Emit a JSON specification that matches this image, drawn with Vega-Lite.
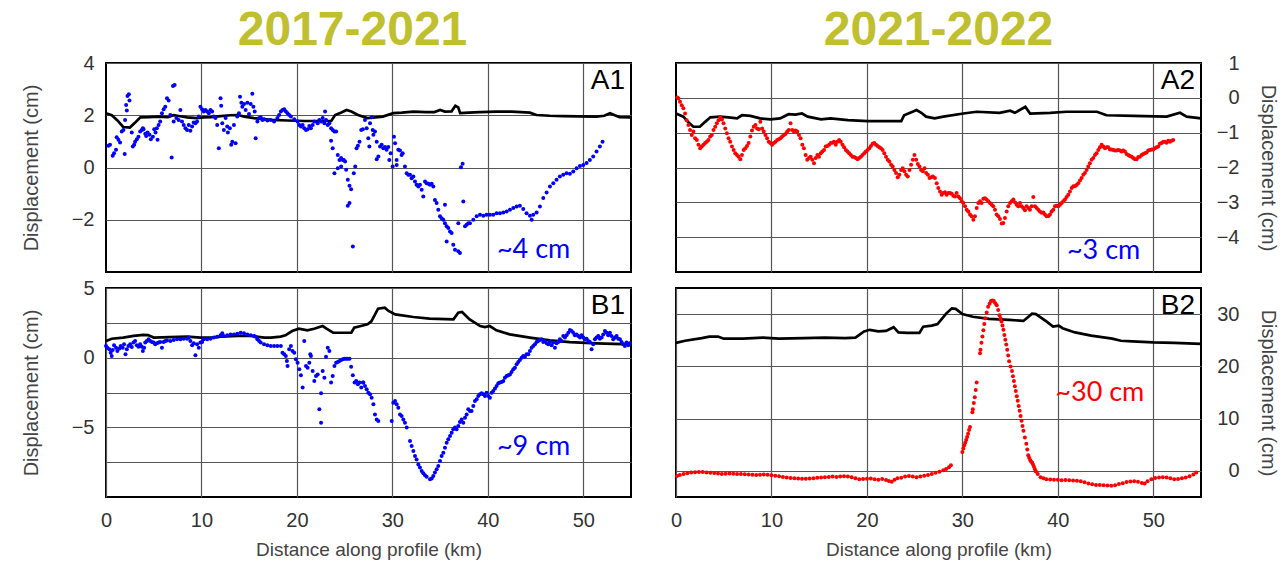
{
  "$schema": "https://vega.github.io/schema/vega-lite/v6.json",
  "padding": {"left": 20, "top": 6, "right": 5, "bottom": 5},
  "background": "white",
  "bounds": "flush",
  "columns": 2,
  "spacing": {"row": 16, "column": 45},
  "config": {
    "view": {"stroke": "#000", "strokeWidth": 2},
    "axis": {
      "grid": true, "gridColor": "#555", "gridWidth": 1.2,
      "domain": false, "ticks": false,
      "labelFont": "Liberation Sans", "labelFontSize": 20, "labelColor": "#333",
      "labelFlush": false, "labelOverlap": false,
      "titleFont": "Liberation Sans", "titleFontSize": 20, "titleFontWeight": "normal", "titleColor": "#444"
    },
    "title": {
      "font": "Liberation Sans", "fontSize": 48, "fontWeight": "bold", "color": "#BFBF30",
      "anchor": "middle", "frame": "group", "baseline": "alphabetic", "offset": -2
    }
  },
  "datasets": {
    "a1_line": [
      {"km":0,"cm":2.08},{"km":0.6,"cm":2.0},{"km":1.2,"cm":1.8},{"km":1.8,"cm":1.55},{"km":2.5,"cm":1.53},{"km":3.0,"cm":1.7},{"km":3.6,"cm":1.92},{"km":4.5,"cm":1.93},{"km":5.5,"cm":1.95},{"km":6.5,"cm":1.93},{"km":7.1,"cm":2.0},{"km":7.6,"cm":1.97},{"km":8.5,"cm":1.92},{"km":9.5,"cm":1.89},{"km":10.2,"cm":1.92},{"km":11.0,"cm":1.93},{"km":12.0,"cm":1.97},{"km":13.0,"cm":2.0},{"km":13.8,"cm":2.01},{"km":14.5,"cm":1.95},{"km":15.5,"cm":1.89},{"km":16.5,"cm":1.85},{"km":17.3,"cm":1.82},{"km":19.0,"cm":1.8},{"km":20.8,"cm":1.78},{"km":22.5,"cm":1.78},{"km":23.6,"cm":1.78},{"km":24.0,"cm":2.01},{"km":24.6,"cm":2.1},{"km":25.2,"cm":2.2},{"km":25.7,"cm":2.14},{"km":26.4,"cm":2.01},{"km":27.4,"cm":1.89},{"km":28.2,"cm":1.92},{"km":29.0,"cm":1.95},{"km":30.1,"cm":2.08},{"km":31.0,"cm":2.1},{"km":32.2,"cm":2.14},{"km":33.5,"cm":2.12},{"km":34.4,"cm":2.12},{"km":35.0,"cm":2.2},{"km":35.5,"cm":2.14},{"km":36.2,"cm":2.15},{"km":36.6,"cm":2.36},{"km":36.9,"cm":2.3},{"km":37.1,"cm":2.08},{"km":38.0,"cm":2.1},{"km":39.2,"cm":2.12},{"km":40.9,"cm":2.14},{"km":42.5,"cm":2.14},{"km":44.4,"cm":2.1},{"km":45.1,"cm":2.01},{"km":46.5,"cm":1.98},{"km":47.9,"cm":1.97},{"km":49.5,"cm":1.96},{"km":51.4,"cm":1.95},{"km":52.2,"cm":1.98},{"km":52.8,"cm":2.08},{"km":53.3,"cm":2.0},{"km":53.8,"cm":1.93},{"km":55.0,"cm":1.92}
    ],
    "a1_pts": [
      {"km":0.25,"cm":0.83},{"km":0.42,"cm":0.87},{"km":0.70,"cm":0.45},{"km":0.84,"cm":0.55},{"km":1.05,"cm":0.68},{"km":1.12,"cm":1.16},{"km":1.30,"cm":1.06},{"km":1.47,"cm":0.96},{"km":1.65,"cm":1.38},{"km":1.82,"cm":1.44},{"km":2.0,"cm":1.82},{"km":2.11,"cm":2.39},{"km":2.18,"cm":2.18},{"km":2.25,"cm":2.74},{"km":2.39,"cm":2.80},{"km":2.46,"cm":2.56},{"km":1.96,"cm":0.52},{"km":2.70,"cm":1.34},{"km":2.81,"cm":0.80},{"km":2.95,"cm":0.87},{"km":3.05,"cm":0.99},{"km":3.23,"cm":1.08},{"km":3.40,"cm":1.18},{"km":3.58,"cm":1.38},{"km":3.75,"cm":1.44},{"km":3.86,"cm":1.50},{"km":3.93,"cm":1.46},{"km":4.11,"cm":1.29},{"km":4.21,"cm":1.21},{"km":4.35,"cm":1.34},{"km":4.56,"cm":1.25},{"km":4.70,"cm":1.08},{"km":4.91,"cm":1.18},{"km":5.05,"cm":1.46},{"km":5.19,"cm":1.34},{"km":5.33,"cm":1.50},{"km":5.40,"cm":1.06},{"km":5.51,"cm":1.63},{"km":5.68,"cm":1.76},{"km":5.86,"cm":2.08},{"km":6.04,"cm":2.23},{"km":6.21,"cm":2.33},{"km":6.39,"cm":2.65},{"km":6.56,"cm":2.56},{"km":6.74,"cm":2.01},{"km":6.88,"cm":0.38},{"km":7.02,"cm":3.12},{"km":7.19,"cm":3.16},{"km":7.09,"cm":1.76},{"km":7.37,"cm":1.89},{"km":7.61,"cm":1.82},{"km":7.79,"cm":2.20},{"km":7.96,"cm":1.76},{"km":8.14,"cm":1.63},{"km":8.32,"cm":1.50},{"km":8.49,"cm":1.44},{"km":8.67,"cm":1.63},{"km":8.84,"cm":1.41},{"km":9.02,"cm":1.57},{"km":9.19,"cm":1.72},{"km":9.37,"cm":1.69},{"km":9.54,"cm":1.76},{"km":9.72,"cm":1.95},{"km":9.89,"cm":2.33},{"km":10.07,"cm":2.23},{"km":10.25,"cm":2.14},{"km":10.42,"cm":2.20},{"km":10.60,"cm":2.14},{"km":10.77,"cm":2.08},{"km":10.95,"cm":2.20},{"km":11.12,"cm":2.14},{"km":11.30,"cm":1.95},{"km":11.47,"cm":1.89},{"km":11.65,"cm":1.63},{"km":11.82,"cm":0.74},{"km":12.0,"cm":2.65},{"km":12.07,"cm":2.36},{"km":12.18,"cm":1.69},{"km":12.35,"cm":1.44},{"km":12.53,"cm":1.89},{"km":12.70,"cm":1.57},{"km":12.77,"cm":1.34},{"km":12.98,"cm":1.50},{"km":13.12,"cm":0.87},{"km":13.23,"cm":0.99},{"km":13.40,"cm":1.63},{"km":13.58,"cm":0.93},{"km":13.75,"cm":1.95},{"km":13.93,"cm":2.08},{"km":14.04,"cm":2.71},{"km":14.18,"cm":2.48},{"km":14.28,"cm":2.33},{"km":14.46,"cm":2.43},{"km":14.63,"cm":2.20},{"km":14.81,"cm":2.48},{"km":14.98,"cm":2.05},{"km":15.16,"cm":2.43},{"km":15.33,"cm":2.82},{"km":15.44,"cm":2.33},{"km":15.58,"cm":2.14},{"km":15.68,"cm":1.12},{"km":15.86,"cm":1.76},{"km":16.04,"cm":1.89},{"km":16.21,"cm":1.92},{"km":16.39,"cm":1.82},{"km":16.56,"cm":1.85},{"km":16.91,"cm":1.80},{"km":17.26,"cm":1.82},{"km":17.61,"cm":1.76},{"km":17.96,"cm":1.89},{"km":18.14,"cm":2.01},{"km":18.32,"cm":2.14},{"km":18.49,"cm":2.20},{"km":18.67,"cm":2.23},{"km":18.84,"cm":2.14},{"km":19.02,"cm":2.08},{"km":19.19,"cm":2.01},{"km":19.37,"cm":1.95},{"km":19.72,"cm":1.85},{"km":20.07,"cm":1.76},{"km":20.25,"cm":1.63},{"km":20.42,"cm":1.57},{"km":20.60,"cm":1.63},{"km":20.77,"cm":1.50},{"km":20.95,"cm":1.44},{"km":21.12,"cm":1.46},{"km":21.30,"cm":1.59},{"km":21.47,"cm":1.50},{"km":21.65,"cm":1.63},{"km":21.82,"cm":1.76},{"km":22.18,"cm":1.69},{"km":22.35,"cm":1.82},{"km":22.53,"cm":1.76},{"km":22.70,"cm":1.89},{"km":22.88,"cm":1.69},{"km":22.95,"cm":2.14},{"km":23.05,"cm":1.82},{"km":23.23,"cm":1.63},{"km":23.40,"cm":1.69},{"km":23.58,"cm":1.50},{"km":23.75,"cm":1.44},{"km":23.93,"cm":1.38},{"km":23.58,"cm":1.02},{"km":23.75,"cm":0.74},{"km":24.11,"cm":1.38},{"km":24.28,"cm":-0.03},{"km":24.46,"cm":0.29},{"km":24.63,"cm":0.36},{"km":24.81,"cm":0.29},{"km":24.91,"cm":0.29},{"km":25.05,"cm":0.23},{"km":24.28,"cm":0.48},{"km":23.93,"cm":-0.22},{"km":24.63,"cm":0.04},{"km":25.16,"cm":-0.09},{"km":25.33,"cm":-0.47},{"km":25.51,"cm":-0.70},{"km":25.68,"cm":-0.83},{"km":25.51,"cm":-1.36},{"km":25.33,"cm":-1.46},{"km":25.86,"cm":-3.02},{"km":25.96,"cm":-0.22},{"km":26.11,"cm":0.04},{"km":26.25,"cm":0.74},{"km":26.39,"cm":0.83},{"km":26.56,"cm":0.99},{"km":26.74,"cm":1.44},{"km":26.91,"cm":1.46},
      {"km":27.13,"cm":1.82},{"km":27.31,"cm":1.50},{"km":27.48,"cm":1.12},{"km":27.59,"cm":0.80},{"km":27.66,"cm":1.69},{"km":27.83,"cm":1.92},{"km":27.94,"cm":1.44},{"km":28.01,"cm":1.25},{"km":28.18,"cm":1.38},{"km":28.36,"cm":0.99},{"km":28.36,"cm":0.32},{"km":28.53,"cm":0.42},{"km":28.71,"cm":0.80},{"km":28.88,"cm":0.87},{"km":29.05,"cm":0.74},{"km":29.23,"cm":0.78},{"km":29.40,"cm":0.68},{"km":29.58,"cm":0.78},{"km":29.68,"cm":0.29},{"km":29.82,"cm":0.55},{"km":30.03,"cm":0.04},{"km":30.17,"cm":1.18},{"km":30.28,"cm":0.93},{"km":30.45,"cm":0.29},{"km":30.45,"cm":0.10},{"km":30.62,"cm":0.68},{"km":30.80,"cm":0.65},{"km":30.97,"cm":0.48},{"km":31.08,"cm":0.55},{"km":31.32,"cm":0.04},{"km":31.50,"cm":-0.22},{"km":31.67,"cm":-0.28},{"km":31.85,"cm":-0.28},{"km":32.02,"cm":-0.41},{"km":32.20,"cm":-0.34},{"km":32.37,"cm":-0.54},{"km":32.54,"cm":-0.66},{"km":32.72,"cm":-0.73},{"km":32.89,"cm":-0.66},{"km":33.07,"cm":-0.85},{"km":33.24,"cm":-1.11},{"km":33.42,"cm":-0.54},{"km":33.59,"cm":-0.60},{"km":33.77,"cm":-0.62},{"km":33.94,"cm":-0.66},{"km":34.12,"cm":-0.62},{"km":34.29,"cm":-0.73},{"km":34.46,"cm":-1.24},{"km":34.64,"cm":-1.36},{"km":34.81,"cm":-1.62},{"km":34.99,"cm":-1.87},{"km":35.16,"cm":-1.94},{"km":35.34,"cm":-2.00},{"km":35.51,"cm":-2.13},{"km":35.69,"cm":-2.25},{"km":35.86,"cm":-2.32},{"km":36.04,"cm":-2.45},{"km":36.21,"cm":-2.51},{"km":35.69,"cm":-2.83},{"km":36.38,"cm":-2.96},{"km":36.56,"cm":-3.15},{"km":36.91,"cm":-3.21},{"km":37.08,"cm":-3.27},{"km":35.51,"cm":-1.43},{"km":36.91,"cm":-2.13},{"km":37.19,"cm":0.01},{"km":37.36,"cm":0.14},{"km":37.43,"cm":-1.30},{"km":37.61,"cm":-2.25},{"km":37.78,"cm":-2.19},{"km":37.95,"cm":-2.13},{"km":38.13,"cm":-2.13},{"km":38.48,"cm":-2.00},{"km":38.83,"cm":-1.87},{"km":39.18,"cm":-1.81},{"km":39.53,"cm":-1.85},{"km":39.87,"cm":-1.81},{"km":40.22,"cm":-1.81},{"km":40.57,"cm":-1.81},{"km":40.92,"cm":-1.75},{"km":41.27,"cm":-1.75},{"km":41.62,"cm":-1.72},{"km":41.97,"cm":-1.68},{"km":42.32,"cm":-1.62},{"km":42.67,"cm":-1.55},{"km":43.02,"cm":-1.49},{"km":43.36,"cm":-1.46},{"km":43.71,"cm":-1.59},{"km":44.06,"cm":-1.75},{"km":44.41,"cm":-1.85},{"km":44.59,"cm":-2.00},{"km":44.76,"cm":-1.81},{"km":45.11,"cm":-1.72},{"km":45.46,"cm":-1.49},{"km":45.81,"cm":-1.17},{"km":46.16,"cm":-0.96},{"km":46.51,"cm":-0.73},{"km":46.86,"cm":-0.60},{"km":47.20,"cm":-0.47},{"km":47.55,"cm":-0.34},{"km":47.90,"cm":-0.28},{"km":48.25,"cm":-0.22},{"km":48.60,"cm":-0.24},{"km":48.95,"cm":-0.15},{"km":49.30,"cm":-0.03},{"km":49.65,"cm":0.06},{"km":50.00,"cm":0.10},{"km":50.35,"cm":0.17},{"km":50.69,"cm":0.29},{"km":51.04,"cm":0.42},{"km":51.39,"cm":0.61},{"km":51.74,"cm":0.80},{"km":52.02,"cm":0.99}
    ],
    "a2_line": [
      {"km":0,"cm":-0.45},{"km":0.77,"cm":-0.54},{"km":1.3,"cm":-0.7},{"km":1.82,"cm":-0.83},{"km":2.5,"cm":-0.83},{"km":3.05,"cm":-0.69},{"km":3.6,"cm":-0.56},{"km":4.6,"cm":-0.54},{"km":5.5,"cm":-0.56},{"km":6.4,"cm":-0.59},{"km":6.9,"cm":-0.5},{"km":7.8,"cm":-0.52},{"km":8.8,"cm":-0.59},{"km":9.9,"cm":-0.62},{"km":10.9,"cm":-0.59},{"km":11.8,"cm":-0.47},{"km":12.5,"cm":-0.48},{"km":13.2,"cm":-0.45},{"km":13.8,"cm":-0.54},{"km":15.2,"cm":-0.62},{"km":16.2,"cm":-0.59},{"km":18.0,"cm":-0.64},{"km":20.1,"cm":-0.67},{"km":22.5,"cm":-0.67},{"km":23.6,"cm":-0.67},{"km":23.9,"cm":-0.5},{"km":24.6,"cm":-0.42},{"km":25.2,"cm":-0.35},{"km":25.7,"cm":-0.43},{"km":26.2,"cm":-0.54},{"km":27.1,"cm":-0.59},{"km":28.0,"cm":-0.54},{"km":30.1,"cm":-0.45},{"km":31.5,"cm":-0.4},{"km":33.9,"cm":-0.43},{"km":35.0,"cm":-0.37},{"km":35.5,"cm":-0.43},{"km":36.6,"cm":-0.26},{"km":37.1,"cm":-0.45},{"km":39.2,"cm":-0.43},{"km":40.9,"cm":-0.4},{"km":44.1,"cm":-0.4},{"km":45.1,"cm":-0.5},{"km":47.9,"cm":-0.52},{"km":51.4,"cm":-0.54},{"km":52.8,"cm":-0.43},{"km":53.5,"cm":-0.54},{"km":55,"cm":-0.59}
    ],
    "a2_pts": [
      {"km":0.14,"cm":0.01},{"km":0.25,"cm":-0.02},{"km":0.42,"cm":-0.11},{"km":0.60,"cm":-0.21},{"km":0.77,"cm":-0.30},{"km":0.95,"cm":-0.45},{"km":1.12,"cm":-0.64},{"km":1.30,"cm":-0.78},{"km":1.47,"cm":-0.92},{"km":1.65,"cm":-1.07},{"km":1.82,"cm":-0.97},{"km":2.0,"cm":-1.16},{"km":2.18,"cm":-1.21},{"km":2.35,"cm":-1.35},{"km":2.53,"cm":-1.45},{"km":2.70,"cm":-1.40},{"km":2.88,"cm":-1.35},{"km":3.05,"cm":-1.30},{"km":3.23,"cm":-1.26},{"km":3.40,"cm":-1.21},{"km":3.58,"cm":-1.11},{"km":3.75,"cm":-1.07},{"km":3.93,"cm":-0.92},{"km":4.11,"cm":-0.83},{"km":4.28,"cm":-0.73},{"km":4.46,"cm":-0.64},{"km":4.63,"cm":-0.56},{"km":4.81,"cm":-0.62},{"km":4.98,"cm":-0.73},{"km":5.16,"cm":-0.88},{"km":5.33,"cm":-1.02},{"km":5.51,"cm":-1.16},{"km":5.68,"cm":-1.26},{"km":5.86,"cm":-1.40},{"km":6.04,"cm":-1.50},{"km":6.21,"cm":-1.59},{"km":6.39,"cm":-1.64},{"km":6.56,"cm":-1.69},{"km":6.74,"cm":-1.76},{"km":6.91,"cm":-1.64},{"km":7.09,"cm":-1.50},{"km":7.26,"cm":-1.45},{"km":7.44,"cm":-1.38},{"km":7.61,"cm":-1.30},{"km":7.79,"cm":-1.11},{"km":7.96,"cm":-0.94},{"km":8.14,"cm":-0.83},{"km":8.32,"cm":-0.78},{"km":8.49,"cm":-0.88},{"km":8.67,"cm":-0.90},{"km":8.84,"cm":-0.69},{"km":9.02,"cm":-0.88},{"km":9.19,"cm":-0.97},{"km":9.37,"cm":-1.07},{"km":9.54,"cm":-1.16},{"km":9.72,"cm":-1.26},{"km":9.89,"cm":-1.30},{"km":10.07,"cm":-1.35},{"km":10.25,"cm":-1.30},{"km":10.42,"cm":-1.26},{"km":10.60,"cm":-1.21},{"km":10.77,"cm":-1.19},{"km":10.95,"cm":-1.16},{"km":11.12,"cm":-1.11},{"km":11.30,"cm":-1.07},{"km":11.47,"cm":-1.04},{"km":11.65,"cm":-0.97},{"km":11.82,"cm":-0.92},{"km":12.0,"cm":-0.73},{"km":12.18,"cm":-0.92},{"km":12.35,"cm":-0.97},{"km":12.53,"cm":-0.94},{"km":12.70,"cm":-0.97},{"km":12.88,"cm":-1.07},{"km":13.05,"cm":-1.16},{"km":13.23,"cm":-1.35},{"km":13.40,"cm":-1.45},{"km":13.58,"cm":-1.64},{"km":13.75,"cm":-1.78},{"km":13.93,"cm":-1.73},{"km":14.11,"cm":-1.69},{"km":14.28,"cm":-1.78},{"km":14.46,"cm":-1.88},{"km":14.63,"cm":-1.73},{"km":14.81,"cm":-1.64},{"km":14.98,"cm":-1.69},{"km":15.16,"cm":-1.59},{"km":15.33,"cm":-1.54},{"km":15.51,"cm":-1.50},{"km":15.68,"cm":-1.40},{"km":15.86,"cm":-1.38},{"km":16.04,"cm":-1.35},{"km":16.21,"cm":-1.30},{"km":16.39,"cm":-1.29},{"km":16.56,"cm":-1.26},{"km":16.74,"cm":-1.35},{"km":16.91,"cm":-1.26},{"km":17.09,"cm":-1.21},{"km":17.26,"cm":-1.26},{"km":17.44,"cm":-1.35},{"km":17.61,"cm":-1.42},{"km":17.79,"cm":-1.50},{"km":17.96,"cm":-1.54},{"km":18.14,"cm":-1.59},{"km":18.32,"cm":-1.64},{"km":18.49,"cm":-1.69},{"km":18.67,"cm":-1.70},{"km":18.84,"cm":-1.73},{"km":19.02,"cm":-1.76},{"km":19.19,"cm":-1.73},{"km":19.37,"cm":-1.69},{"km":19.54,"cm":-1.64},{"km":19.72,"cm":-1.59},{"km":19.89,"cm":-1.54},{"km":20.07,"cm":-1.50},{"km":20.25,"cm":-1.45},{"km":20.42,"cm":-1.38},{"km":20.60,"cm":-1.32},{"km":20.77,"cm":-1.30},{"km":20.95,"cm":-1.35},{"km":21.12,"cm":-1.38},{"km":21.30,"cm":-1.42},{"km":21.47,"cm":-1.45},{"km":21.65,"cm":-1.50},{"km":21.82,"cm":-1.59},{"km":22.0,"cm":-1.69},{"km":22.18,"cm":-1.78},{"km":22.35,"cm":-1.83},{"km":22.53,"cm":-1.92},{"km":22.70,"cm":-1.97},{"km":22.88,"cm":-2.07},{"km":23.05,"cm":-2.16},{"km":23.23,"cm":-2.28},{"km":23.40,"cm":-2.21},{"km":23.58,"cm":-2.07},{"km":23.75,"cm":-2.02},{"km":23.93,"cm":-2.11},{"km":24.11,"cm":-2.21},{"km":24.28,"cm":-2.26},{"km":24.46,"cm":-2.07},{"km":24.63,"cm":-1.92},{"km":24.81,"cm":-1.78},{"km":24.98,"cm":-1.64},{"km":25.16,"cm":-1.78},{"km":25.33,"cm":-1.90},{"km":25.51,"cm":-1.97},{"km":25.68,"cm":-2.07},{"km":25.86,"cm":-2.11},{"km":26.04,"cm":-2.02},{"km":26.21,"cm":-2.16},{"km":26.39,"cm":-2.21},{"km":26.56,"cm":-2.30},{"km":26.74,"cm":-2.28},{"km":26.91,"cm":-2.26},
      {"km":27.13,"cm":-2.30},{"km":27.31,"cm":-2.45},{"km":27.48,"cm":-2.59},{"km":27.66,"cm":-2.69},{"km":27.83,"cm":-2.78},{"km":28.01,"cm":-2.73},{"km":28.18,"cm":-2.71},{"km":28.36,"cm":-2.78},{"km":28.53,"cm":-2.73},{"km":28.71,"cm":-2.73},{"km":28.88,"cm":-2.75},{"km":29.05,"cm":-2.81},{"km":29.23,"cm":-2.83},{"km":29.40,"cm":-2.73},{"km":29.58,"cm":-2.83},{"km":29.75,"cm":-2.88},{"km":29.93,"cm":-2.97},{"km":30.10,"cm":-3.02},{"km":30.28,"cm":-3.11},{"km":30.45,"cm":-3.21},{"km":30.62,"cm":-3.26},{"km":30.80,"cm":-3.35},{"km":30.97,"cm":-3.40},{"km":31.15,"cm":-3.50},{"km":31.32,"cm":-3.40},{"km":31.50,"cm":-3.16},{"km":31.67,"cm":-3.02},{"km":31.85,"cm":-2.97},{"km":32.02,"cm":-3.02},{"km":32.20,"cm":-2.90},{"km":32.37,"cm":-2.88},{"km":32.54,"cm":-2.92},{"km":32.72,"cm":-2.97},{"km":32.89,"cm":-3.02},{"km":33.07,"cm":-3.07},{"km":33.24,"cm":-3.11},{"km":33.42,"cm":-3.21},{"km":33.59,"cm":-3.35},{"km":33.77,"cm":-3.40},{"km":33.94,"cm":-3.48},{"km":34.12,"cm":-3.61},{"km":34.29,"cm":-3.59},{"km":34.46,"cm":-3.45},{"km":34.64,"cm":-3.26},{"km":34.81,"cm":-3.11},{"km":34.99,"cm":-3.02},{"km":35.16,"cm":-2.97},{"km":35.34,"cm":-2.92},{"km":35.51,"cm":-3.00},{"km":35.69,"cm":-3.07},{"km":35.86,"cm":-3.11},{"km":36.04,"cm":-3.02},{"km":36.21,"cm":-3.11},{"km":36.38,"cm":-3.16},{"km":36.56,"cm":-3.23},{"km":36.73,"cm":-3.11},{"km":36.91,"cm":-3.16},{"km":37.08,"cm":-3.21},{"km":37.26,"cm":-3.11},{"km":37.43,"cm":-2.85},{"km":37.61,"cm":-3.11},{"km":37.78,"cm":-3.16},{"km":37.95,"cm":-3.21},{"km":38.13,"cm":-3.26},{"km":38.30,"cm":-3.30},{"km":38.48,"cm":-3.29},{"km":38.65,"cm":-3.35},{"km":38.83,"cm":-3.40},{"km":39.00,"cm":-3.40},{"km":39.18,"cm":-3.35},{"km":39.35,"cm":-3.26},{"km":39.53,"cm":-3.21},{"km":39.70,"cm":-3.11},{"km":39.87,"cm":-3.10},{"km":40.05,"cm":-3.11},{"km":40.22,"cm":-3.07},{"km":40.40,"cm":-3.02},{"km":40.57,"cm":-2.97},{"km":40.75,"cm":-2.92},{"km":40.92,"cm":-2.85},{"km":41.10,"cm":-2.78},{"km":41.27,"cm":-2.69},{"km":41.45,"cm":-2.59},{"km":41.62,"cm":-2.54},{"km":41.79,"cm":-2.54},{"km":41.97,"cm":-2.50},{"km":42.14,"cm":-2.45},{"km":42.32,"cm":-2.37},{"km":42.49,"cm":-2.30},{"km":42.67,"cm":-2.21},{"km":42.84,"cm":-2.16},{"km":43.02,"cm":-2.07},{"km":43.19,"cm":-1.97},{"km":43.36,"cm":-1.88},{"km":43.54,"cm":-1.78},{"km":43.71,"cm":-1.73},{"km":43.89,"cm":-1.64},{"km":44.06,"cm":-1.59},{"km":44.24,"cm":-1.50},{"km":44.41,"cm":-1.42},{"km":44.59,"cm":-1.35},{"km":44.76,"cm":-1.40},{"km":44.94,"cm":-1.45},{"km":45.11,"cm":-1.42},{"km":45.28,"cm":-1.42},{"km":45.46,"cm":-1.48},{"km":45.63,"cm":-1.48},{"km":45.81,"cm":-1.50},{"km":45.98,"cm":-1.51},{"km":46.16,"cm":-1.51},{"km":46.33,"cm":-1.50},{"km":46.51,"cm":-1.51},{"km":46.68,"cm":-1.54},{"km":46.86,"cm":-1.51},{"km":47.03,"cm":-1.54},{"km":47.20,"cm":-1.61},{"km":47.38,"cm":-1.64},{"km":47.55,"cm":-1.67},{"km":47.73,"cm":-1.69},{"km":47.90,"cm":-1.73},{"km":48.08,"cm":-1.76},{"km":48.25,"cm":-1.76},{"km":48.43,"cm":-1.70},{"km":48.60,"cm":-1.69},{"km":48.78,"cm":-1.64},{"km":48.95,"cm":-1.61},{"km":49.12,"cm":-1.59},{"km":49.30,"cm":-1.57},{"km":49.47,"cm":-1.51},{"km":49.65,"cm":-1.50},{"km":49.82,"cm":-1.48},{"km":50.00,"cm":-1.48},{"km":50.17,"cm":-1.45},{"km":50.35,"cm":-1.42},{"km":50.52,"cm":-1.40},{"km":50.69,"cm":-1.32},{"km":50.87,"cm":-1.30},{"km":51.04,"cm":-1.26},{"km":51.22,"cm":-1.26},{"km":51.39,"cm":-1.29},{"km":51.57,"cm":-1.23},{"km":51.74,"cm":-1.26},{"km":51.92,"cm":-1.23},{"km":52.09,"cm":-1.21}
    ],
    "b1_line": [
      {"km":0,"cm":1.2},{"km":0.6,"cm":1.36},{"km":1.8,"cm":1.44},{"km":2.9,"cm":1.56},{"km":3.9,"cm":1.63},{"km":4.4,"cm":1.62},{"km":5.0,"cm":1.44},{"km":6.7,"cm":1.48},{"km":8.5,"cm":1.51},{"km":9.9,"cm":1.44},{"km":11.0,"cm":1.44},{"km":12.0,"cm":1.51},{"km":13.8,"cm":1.56},{"km":15.2,"cm":1.56},{"km":16.6,"cm":1.44},{"km":17.3,"cm":1.44},{"km":18.3,"cm":1.51},{"km":18.8,"cm":1.6},{"km":19.5,"cm":1.91},{"km":20.2,"cm":2.08},{"km":21.1,"cm":1.96},{"km":21.8,"cm":2.08},{"km":22.7,"cm":2.27},{"km":23.1,"cm":2.08},{"km":23.8,"cm":1.79},{"km":25.7,"cm":1.79},{"km":26.0,"cm":2.15},{"km":26.7,"cm":2.27},{"km":27.4,"cm":2.39},{"km":27.8,"cm":2.6},{"km":28.5,"cm":3.52},{"km":29.2,"cm":3.59},{"km":29.6,"cm":3.35},{"km":30.3,"cm":3.11},{"km":32.2,"cm":2.92},{"km":33.9,"cm":2.8},{"km":36.4,"cm":2.75},{"km":36.9,"cm":3.23},{"km":37.3,"cm":3.28},{"km":38.1,"cm":2.75},{"km":39.2,"cm":2.27},{"km":39.7,"cm":2.2},{"km":40.2,"cm":2.27},{"km":40.9,"cm":1.96},{"km":42.3,"cm":1.67},{"km":44.4,"cm":1.44},{"km":46.5,"cm":1.24},{"km":48.6,"cm":1.12},{"km":51.4,"cm":1.03},{"km":55,"cm":0.96}
    ],
    "b1_pts": [
      {"km":0.0,"cm":0.84},{"km":0.14,"cm":0.72},{"km":0.35,"cm":0.60},{"km":0.49,"cm":0.36},{"km":0.60,"cm":0.12},{"km":0.70,"cm":0.55},{"km":0.84,"cm":0.89},{"km":1.05,"cm":0.72},{"km":1.19,"cm":0.48},{"km":1.40,"cm":0.65},{"km":1.54,"cm":0.84},{"km":1.75,"cm":0.72},{"km":1.89,"cm":0.96},{"km":2.04,"cm":0.24},{"km":2.18,"cm":0.60},{"km":2.35,"cm":0.84},{"km":2.53,"cm":0.96},{"km":2.70,"cm":0.77},{"km":2.88,"cm":1.08},{"km":3.05,"cm":1.20},{"km":3.23,"cm":0.89},{"km":3.40,"cm":0.79},{"km":3.58,"cm":0.96},{"km":3.75,"cm":0.79},{"km":3.86,"cm":0.48},{"km":4.0,"cm":0.72},{"km":4.11,"cm":1.08},{"km":4.28,"cm":1.20},{"km":4.46,"cm":1.32},{"km":4.63,"cm":1.20},{"km":4.81,"cm":1.12},{"km":4.98,"cm":1.08},{"km":5.16,"cm":0.96},{"km":5.33,"cm":1.03},{"km":5.51,"cm":1.08},{"km":5.68,"cm":1.12},{"km":5.86,"cm":0.72},{"km":6.04,"cm":1.12},{"km":6.21,"cm":1.20},{"km":6.39,"cm":1.24},{"km":6.74,"cm":1.20},{"km":7.09,"cm":1.27},{"km":7.44,"cm":1.32},{"km":7.79,"cm":1.32},{"km":8.14,"cm":1.36},{"km":8.49,"cm":1.36},{"km":8.67,"cm":1.44},{"km":8.84,"cm":1.20},{"km":9.02,"cm":0.89},{"km":9.19,"cm":1.03},{"km":9.37,"cm":0.17},{"km":9.54,"cm":0.96},{"km":9.72,"cm":0.72},{"km":9.89,"cm":1.08},{"km":10.07,"cm":1.12},{"km":10.25,"cm":1.32},{"km":10.60,"cm":1.32},{"km":10.95,"cm":1.36},{"km":11.30,"cm":1.44},{"km":11.65,"cm":1.51},{"km":12.0,"cm":1.60},{"km":12.18,"cm":1.75},{"km":12.35,"cm":1.56},{"km":12.70,"cm":1.60},{"km":13.05,"cm":1.67},{"km":13.40,"cm":1.67},{"km":13.75,"cm":1.72},{"km":14.11,"cm":1.79},{"km":14.46,"cm":1.75},{"km":14.81,"cm":1.67},{"km":15.16,"cm":1.60},{"km":15.51,"cm":1.56},{"km":15.68,"cm":1.51},{"km":15.86,"cm":1.32},{"km":16.04,"cm":1.20},{"km":16.21,"cm":1.08},{"km":16.56,"cm":0.96},{"km":16.91,"cm":0.89},{"km":17.26,"cm":0.84},{"km":17.61,"cm":0.84},{"km":17.96,"cm":0.84},{"km":18.32,"cm":0.84},{"km":18.49,"cm":0.36},{"km":18.67,"cm":0.24},{"km":18.84,"cm":0.12},{"km":19.02,"cm":-0.60},{"km":18.95,"cm":-0.24},{"km":19.19,"cm":0.60},{"km":19.37,"cm":0.84},{"km":19.54,"cm":0.48},{"km":19.72,"cm":0.36},{"km":19.89,"cm":-0.12},{"km":20.07,"cm":-0.36},{"km":20.25,"cm":-0.84},{"km":20.42,"cm":-1.27},{"km":20.60,"cm":-2.15},{"km":20.77,"cm":1.20},{"km":20.95,"cm":-0.60},{"km":21.12,"cm":-0.72},{"km":21.30,"cm":-0.36},{"km":21.40,"cm":0.24},{"km":21.47,"cm":0.12},{"km":21.65,"cm":-0.96},{"km":21.82,"cm":-1.67},{"km":22.0,"cm":-1.32},{"km":22.18,"cm":-1.20},{"km":22.35,"cm":-3.71},{"km":22.53,"cm":-4.67},{"km":22.53,"cm":-2.56},{"km":22.70,"cm":-0.96},{"km":22.88,"cm":-1.44},{"km":23.05,"cm":0.07},{"km":23.23,"cm":0.72},{"km":23.40,"cm":0.48},{"km":23.58,"cm":-1.79},{"km":23.75,"cm":-1.32},{"km":23.93,"cm":-0.60},{"km":24.11,"cm":-0.36},{"km":24.28,"cm":-0.31},{"km":24.46,"cm":-0.24},{"km":24.63,"cm":-0.17},{"km":24.81,"cm":-0.12},{"km":24.98,"cm":-0.07},{"km":25.16,"cm":-0.07},{"km":25.33,"cm":-0.07},{"km":25.51,"cm":-0.07},{"km":25.68,"cm":-0.65},{"km":25.86,"cm":-1.27},{"km":26.04,"cm":-1.79},{"km":26.21,"cm":-1.67},{"km":26.39,"cm":-1.91},{"km":26.56,"cm":-1.79},{"km":26.74,"cm":-2.15},{"km":26.91,"cm":-1.79},
      {"km":26.96,"cm":-1.79},{"km":27.13,"cm":-2.03},{"km":27.31,"cm":-2.27},{"km":27.48,"cm":-2.51},{"km":27.66,"cm":-2.63},{"km":27.83,"cm":-2.87},{"km":28.01,"cm":-3.35},{"km":28.18,"cm":-4.07},{"km":28.36,"cm":-4.43},{"km":28.53,"cm":-4.55},{"km":29.93,"cm":-4.55},{"km":30.10,"cm":-3.23},{"km":30.28,"cm":-3.11},{"km":30.45,"cm":-3.35},{"km":30.62,"cm":-3.59},{"km":30.80,"cm":-4.07},{"km":30.97,"cm":-4.19},{"km":31.15,"cm":-4.43},{"km":31.32,"cm":-4.67},{"km":31.50,"cm":-5.02},{"km":31.85,"cm":-5.98},{"km":32.02,"cm":-6.34},{"km":32.20,"cm":-6.70},{"km":32.37,"cm":-7.06},{"km":32.54,"cm":-7.30},{"km":32.72,"cm":-7.66},{"km":32.89,"cm":-7.89},{"km":33.07,"cm":-8.13},{"km":33.24,"cm":-8.30},{"km":33.42,"cm":-8.44},{"km":33.59,"cm":-8.54},{"km":33.94,"cm":-8.73},{"km":34.12,"cm":-8.68},{"km":34.29,"cm":-8.49},{"km":34.46,"cm":-8.25},{"km":34.64,"cm":-8.01},{"km":34.81,"cm":-7.78},{"km":34.99,"cm":-7.42},{"km":35.16,"cm":-7.06},{"km":35.34,"cm":-6.82},{"km":35.51,"cm":-6.46},{"km":35.69,"cm":-6.10},{"km":35.86,"cm":-5.86},{"km":36.04,"cm":-5.62},{"km":36.21,"cm":-5.38},{"km":36.38,"cm":-5.14},{"km":36.56,"cm":-5.02},{"km":36.73,"cm":-5.14},{"km":36.91,"cm":-4.90},{"km":37.08,"cm":-4.62},{"km":37.26,"cm":-4.43},{"km":37.43,"cm":-4.67},{"km":37.61,"cm":-4.31},{"km":37.78,"cm":-4.07},{"km":37.95,"cm":-3.71},{"km":38.13,"cm":-3.83},{"km":38.30,"cm":-3.83},{"km":38.48,"cm":-3.47},{"km":38.65,"cm":-3.11},{"km":38.83,"cm":-2.99},{"km":39.00,"cm":-2.75},{"km":39.18,"cm":-2.63},{"km":39.35,"cm":-2.56},{"km":39.53,"cm":-2.63},{"km":39.70,"cm":-2.75},{"km":39.87,"cm":-2.51},{"km":40.05,"cm":-2.75},{"km":40.22,"cm":-2.87},{"km":40.40,"cm":-2.51},{"km":40.57,"cm":-2.39},{"km":40.75,"cm":-2.22},{"km":40.92,"cm":-2.03},{"km":41.10,"cm":-1.84},{"km":41.27,"cm":-1.79},{"km":41.45,"cm":-1.75},{"km":41.62,"cm":-1.67},{"km":41.79,"cm":-1.44},{"km":41.97,"cm":-1.32},{"km":42.14,"cm":-1.27},{"km":42.32,"cm":-1.20},{"km":42.49,"cm":-1.03},{"km":42.67,"cm":-0.84},{"km":42.84,"cm":-0.72},{"km":43.02,"cm":-0.48},{"km":43.19,"cm":-0.31},{"km":43.36,"cm":-0.17},{"km":43.54,"cm":0.0},{"km":43.71,"cm":0.12},{"km":43.89,"cm":0.07},{"km":44.06,"cm":0.24},{"km":44.24,"cm":0.24},{"km":44.41,"cm":0.48},{"km":44.59,"cm":0.72},{"km":44.76,"cm":0.84},{"km":44.94,"cm":0.96},{"km":45.11,"cm":1.12},{"km":45.28,"cm":1.20},{"km":45.46,"cm":1.27},{"km":45.63,"cm":1.32},{"km":45.81,"cm":1.12},{"km":45.98,"cm":1.20},{"km":46.16,"cm":1.03},{"km":46.33,"cm":0.96},{"km":46.51,"cm":1.12},{"km":46.68,"cm":0.89},{"km":46.86,"cm":1.08},{"km":47.03,"cm":0.72},{"km":47.20,"cm":1.03},{"km":47.38,"cm":1.12},{"km":47.55,"cm":1.32},{"km":47.73,"cm":1.20},{"km":47.90,"cm":1.56},{"km":48.08,"cm":1.44},{"km":48.25,"cm":1.60},{"km":48.43,"cm":1.79},{"km":48.60,"cm":1.99},{"km":48.78,"cm":1.91},{"km":48.95,"cm":1.79},{"km":49.12,"cm":1.60},{"km":49.30,"cm":1.67},{"km":49.47,"cm":1.56},{"km":49.65,"cm":1.44},{"km":49.82,"cm":1.60},{"km":50.00,"cm":1.44},{"km":50.17,"cm":1.32},{"km":50.35,"cm":1.36},{"km":50.52,"cm":1.20},{"km":50.69,"cm":1.12},{"km":50.87,"cm":0.60},{"km":51.04,"cm":0.96},{"km":51.22,"cm":1.32},{"km":51.39,"cm":1.44},{"km":51.57,"cm":1.56},{"km":51.74,"cm":1.36},{"km":51.92,"cm":1.44},{"km":52.09,"cm":1.67},{"km":52.27,"cm":1.91},{"km":52.44,"cm":1.79},{"km":52.61,"cm":1.60},{"km":52.79,"cm":1.79},{"km":52.96,"cm":1.56},{"km":53.14,"cm":1.32},{"km":53.31,"cm":1.44},{"km":53.49,"cm":1.56},{"km":53.66,"cm":1.36},{"km":53.84,"cm":1.32},{"km":54.01,"cm":1.12},{"km":54.19,"cm":0.96},{"km":54.36,"cm":0.84},{"km":54.53,"cm":1.08},{"km":54.71,"cm":0.89},{"km":54.88,"cm":1.03}
    ],
    "b2_line": [
      {"km":0,"cm":24.5},{"km":0.95,"cm":24.9},{"km":2.7,"cm":25.4},{"km":3.5,"cm":25.7},{"km":4.4,"cm":25.7},{"km":5.0,"cm":25.3},{"km":7.0,"cm":25.3},{"km":9.1,"cm":25.5},{"km":10.8,"cm":25.3},{"km":13.4,"cm":25.4},{"km":15.6,"cm":25.5},{"km":17.7,"cm":25.4},{"km":18.8,"cm":25.5},{"km":19.7,"cm":26.7},{"km":20.3,"cm":27.0},{"km":21.2,"cm":26.7},{"km":22.0,"cm":26.8},{"km":22.8,"cm":27.5},{"km":23.3,"cm":26.5},{"km":24.2,"cm":26.4},{"km":25.5,"cm":26.4},{"km":25.9,"cm":27.6},{"km":26.8,"cm":27.8},{"km":27.4,"cm":28.1},{"km":28.3,"cm":30.1},{"km":28.9,"cm":31.1},{"km":29.3,"cm":31.0},{"km":30.0,"cm":30.0},{"km":31.1,"cm":29.5},{"km":32.8,"cm":29.1},{"km":34.9,"cm":28.9},{"km":36.4,"cm":28.7},{"km":37.3,"cm":30.1},{"km":37.7,"cm":30.0},{"km":38.8,"cm":28.6},{"km":39.5,"cm":27.6},{"km":40.1,"cm":27.8},{"km":40.5,"cm":27.3},{"km":41.8,"cm":26.5},{"km":43.5,"cm":25.9},{"km":45.7,"cm":25.3},{"km":46.6,"cm":24.9},{"km":47.8,"cm":24.8},{"km":50.0,"cm":24.6},{"km":52.2,"cm":24.5},{"km":55,"cm":24.3}
    ],
    "b2_pts": [
      {"km":0.1,"cm":-1.0},{"km":0.4,"cm":-0.8},{"km":0.8,"cm":-0.6},{"km":1.2,"cm":-0.45},{"km":1.6,"cm":-0.3},{"km":2.0,"cm":-0.25},{"km":2.4,"cm":-0.2},{"km":2.8,"cm":-0.2},{"km":3.2,"cm":-0.3},{"km":3.6,"cm":-0.35},{"km":4.0,"cm":-0.4},{"km":4.4,"cm":-0.5},{"km":4.8,"cm":-0.6},{"km":5.2,"cm":-0.55},{"km":5.6,"cm":-0.5},{"km":6.0,"cm":-0.55},{"km":6.4,"cm":-0.6},{"km":6.8,"cm":-0.6},{"km":7.2,"cm":-0.65},{"km":7.6,"cm":-0.7},{"km":8.0,"cm":-0.75},{"km":8.4,"cm":-0.8},{"km":8.8,"cm":-0.75},{"km":9.2,"cm":-0.7},{"km":9.6,"cm":-0.75},{"km":10.0,"cm":-0.85},{"km":10.4,"cm":-0.95},{"km":10.8,"cm":-1.05},{"km":11.2,"cm":-1.15},{"km":11.6,"cm":-1.25},{"km":12.0,"cm":-1.35},{"km":12.4,"cm":-1.4},{"km":12.8,"cm":-1.45},{"km":13.2,"cm":-1.5},{"km":13.6,"cm":-1.5},{"km":14.0,"cm":-1.45},{"km":14.4,"cm":-1.4},{"km":14.8,"cm":-1.3},{"km":15.2,"cm":-1.25},{"km":15.6,"cm":-1.2},{"km":16.0,"cm":-1.15},{"km":16.4,"cm":-1.1},{"km":16.8,"cm":-1.15},{"km":17.2,"cm":-1.1},{"km":17.6,"cm":-1.05},{"km":18.0,"cm":-1.1},{"km":18.4,"cm":-1.2},{"km":18.8,"cm":-1.4},{"km":19.2,"cm":-1.6},{"km":19.6,"cm":-1.55},{"km":20.0,"cm":-1.5},{"km":20.4,"cm":-1.45},{"km":20.8,"cm":-1.6},{"km":21.2,"cm":-1.7},{"km":21.6,"cm":-1.55},{"km":22.0,"cm":-1.75},{"km":22.3,"cm":-1.95},{"km":22.6,"cm":-2.1},{"km":22.9,"cm":-1.7},{"km":23.2,"cm":-1.4},{"km":23.6,"cm":-1.3},{"km":24.0,"cm":-1.1},{"km":24.4,"cm":-1.0},{"km":24.8,"cm":-1.1},{"km":25.2,"cm":-1.2},{"km":25.6,"cm":-1.1},{"km":26.0,"cm":-0.95},{"km":26.4,"cm":-0.8},{"km":26.8,"cm":-0.6},{"km":27.2,"cm":-0.35},{"km":27.6,"cm":-0.15},{"km":28.0,"cm":0.1},{"km":28.3,"cm":0.35},{"km":28.6,"cm":0.7},{"km":28.8,"cm":1.1},
      {"km":30.0,"cm":3.6},{"km":30.1,"cm":4.3},{"km":30.2,"cm":4.9},{"km":30.3,"cm":5.4},{"km":30.4,"cm":5.9},{"km":30.5,"cm":6.5},{"km":30.6,"cm":7.1},{"km":30.7,"cm":7.8},{"km":30.8,"cm":8.4},{"km":31.05,"cm":11.2},{"km":31.1,"cm":11.8},{"km":31.2,"cm":13.0},{"km":31.3,"cm":14.1},{"km":31.4,"cm":15.5},{"km":31.5,"cm":16.9},{"km":31.85,"cm":22.5},{"km":31.9,"cm":23.2},{"km":32.0,"cm":24.5},{"km":32.1,"cm":25.7},{"km":32.2,"cm":26.9},{"km":32.3,"cm":28.1},{"km":32.4,"cm":29.2},{"km":32.55,"cm":30.3},{"km":32.7,"cm":31.4},{"km":32.85,"cm":32.0},{"km":33.0,"cm":32.5},{"km":33.15,"cm":32.6},{"km":33.3,"cm":32.5},{"km":33.45,"cm":32.1},{"km":33.6,"cm":31.7},{"km":33.75,"cm":30.8},{"km":33.9,"cm":29.8},{"km":34.0,"cm":29.2},{"km":34.1,"cm":28.6},{"km":34.2,"cm":27.8},{"km":34.3,"cm":27.0},{"km":34.4,"cm":26.0},{"km":34.5,"cm":25.1},{"km":34.6,"cm":24.2},{"km":34.7,"cm":23.2},{"km":34.8,"cm":22.1},{"km":34.9,"cm":21.0},{"km":35.05,"cm":20.0},{"km":35.2,"cm":19.1},{"km":35.3,"cm":18.1},{"km":35.4,"cm":17.2},{"km":35.5,"cm":16.2},{"km":35.6,"cm":15.3},{"km":35.7,"cm":14.3},{"km":35.8,"cm":13.4},{"km":35.9,"cm":12.4},{"km":36.0,"cm":11.5},{"km":36.1,"cm":10.5},{"km":36.2,"cm":9.6},{"km":36.3,"cm":8.6},{"km":36.4,"cm":7.7},{"km":36.55,"cm":6.4},{"km":36.7,"cm":5.2},{"km":36.8,"cm":4.1},{"km":36.9,"cm":3.0},{"km":37.0,"cm":2.5},{"km":37.1,"cm":2.1},{"km":37.2,"cm":1.8},{"km":37.3,"cm":1.6},{"km":37.4,"cm":1.2},{"km":37.5,"cm":0.8},{"km":37.6,"cm":0.3},{"km":37.7,"cm":-0.1},{"km":37.9,"cm":-0.6},{"km":38.2,"cm":-1.2},{"km":38.5,"cm":-1.4},{"km":38.8,"cm":-1.6},
      {"km":39.2,"cm":-1.65},{"km":39.6,"cm":-1.7},{"km":40.0,"cm":-1.7},{"km":40.4,"cm":-1.8},{"km":40.8,"cm":-1.75},{"km":41.2,"cm":-1.8},{"km":41.6,"cm":-1.85},{"km":42.0,"cm":-1.9},{"km":42.4,"cm":-2.0},{"km":42.8,"cm":-2.2},{"km":43.2,"cm":-2.4},{"km":43.6,"cm":-2.55},{"km":44.0,"cm":-2.7},{"km":44.4,"cm":-2.7},{"km":44.8,"cm":-2.75},{"km":45.2,"cm":-2.8},{"km":45.6,"cm":-2.85},{"km":46.0,"cm":-2.75},{"km":46.4,"cm":-2.5},{"km":46.8,"cm":-2.35},{"km":47.2,"cm":-2.15},{"km":47.6,"cm":-2.05},{"km":48.0,"cm":-2.0},{"km":48.4,"cm":-2.1},{"km":48.8,"cm":-2.3},{"km":49.1,"cm":-2.4},{"km":49.4,"cm":-2.0},{"km":49.8,"cm":-1.6},{"km":50.2,"cm":-1.35},{"km":50.6,"cm":-1.25},{"km":51.0,"cm":-1.2},{"km":51.4,"cm":-1.25},{"km":51.8,"cm":-1.4},{"km":52.2,"cm":-1.6},{"km":52.6,"cm":-1.55},{"km":53.0,"cm":-1.4},{"km":53.4,"cm":-1.25},{"km":53.8,"cm":-1.05},{"km":54.2,"cm":-0.7},{"km":54.5,"cm":-0.3}
    ]
  },
  "concat": [
    {
      "width": 525, "height": 209,
      "title": {"text": "2017-2021", "dx": -16},
      "encoding": {
        "x": {"field": "km", "type": "quantitative", "scale": {"domain": [0, 55], "nice": false},
              "axis": {"values": [10, 20, 30, 40, 50], "labels": false, "title": null}},
        "y": {"field": "cm", "type": "quantitative", "scale": {"domain": [-4, 4], "nice": false},
              "axis": {"orient": "left", "values": [4, 2, 0, -2], "title": "Displacement (cm)", "labelPadding": 12, "titlePadding": 30}}
      },
      "layer": [
        {"data": {"name": "a1_line"}, "mark": {"type": "line", "color": "#000", "strokeWidth": 2.7}},
        {"data": {"name": "a1_pts"}, "mark": {"type": "circle", "color": "#0000ff", "size": 16, "opacity": 1}},
        {"data": {"values": [{"km": 55, "cm": 4, "label": "A1"}]},
         "mark": {"type": "text", "align": "right", "baseline": "top", "dx": -6, "dy": 4, "font": "Liberation Sans", "fontSize": 28, "color": "#000"},
         "encoding": {"text": {"field": "label"}}},
        {"data": {"values": [{"km": 44.8, "cm": -3.17, "label": "~4 cm"}]},
         "mark": {"type": "text", "align": "center", "baseline": "middle", "font": "Lato", "fontSize": 27, "color": "#0000ff"},
         "encoding": {"text": {"field": "label"}}}
      ]
    },
    {
      "width": 525, "height": 209,
      "title": {"text": "2021-2022"},
      "encoding": {
        "x": {"field": "km", "type": "quantitative", "scale": {"domain": [0, 55], "nice": false},
              "axis": {"values": [10, 20, 30, 40, 50], "labels": false, "title": null}},
        "y": {"field": "cm", "type": "quantitative", "scale": {"domain": [-5, 1], "nice": false},
              "axis": {"orient": "right", "values": [1, 0, -1, -2, -3, -4], "title": "Displacement (cm)", "labelAlign": "right", "labelPadding": 38, "titlePadding": 18}}
      },
      "layer": [
        {"data": {"name": "a2_line"}, "mark": {"type": "line", "color": "#000", "strokeWidth": 2.7}},
        {"data": {"name": "a2_pts"}, "mark": {"type": "circle", "color": "#ff0000", "size": 16, "opacity": 1}},
        {"data": {"values": [{"km": 55, "cm": 1, "label": "A2"}]},
         "mark": {"type": "text", "align": "right", "baseline": "top", "dx": -6, "dy": 4, "font": "Liberation Sans", "fontSize": 28, "color": "#000"},
         "encoding": {"text": {"field": "label"}}},
        {"data": {"values": [{"km": 44.8, "cm": -4.41, "label": "~3 cm"}]},
         "mark": {"type": "text", "align": "center", "baseline": "middle", "font": "Lato", "fontSize": 27, "color": "#0000ff"},
         "encoding": {"text": {"field": "label"}}}
      ]
    },
    {
      "width": 525, "height": 209,
      "encoding": {
        "x": {"field": "km", "type": "quantitative", "scale": {"domain": [0, 55], "nice": false},
              "axis": {"values": [0, 10, 20, 30, 40, 50], "title": "Distance along profile (km)", "labelPadding": 13, "titlePadding": 10, "titleFontSize": 19}},
        "y": {"field": "cm", "type": "quantitative", "scale": {"domain": [-10, 5], "nice": false},
              "axis": {"orient": "left", "values": [5, 2.5, 0, -2.5, -5, -7.5], "labelExpr": "datum.value % 5 === 0 ? datum.label : ''", "title": "Displacement (cm)", "labelPadding": 12, "titlePadding": 30}}
      },
      "layer": [
        {"data": {"name": "b1_line"}, "mark": {"type": "line", "color": "#000", "strokeWidth": 2.7}},
        {"data": {"name": "b1_pts"}, "mark": {"type": "circle", "color": "#0000ff", "size": 16, "opacity": 1}},
        {"data": {"values": [{"km": 55, "cm": 5, "label": "B1"}]},
         "mark": {"type": "text", "align": "right", "baseline": "top", "dx": -6, "dy": 4, "font": "Liberation Sans", "fontSize": 28, "color": "#000"},
         "encoding": {"text": {"field": "label"}}},
        {"data": {"values": [{"km": 44.8, "cm": -6.39, "label": "~9 cm"}]},
         "mark": {"type": "text", "align": "center", "baseline": "middle", "font": "Lato", "fontSize": 27, "color": "#0000ff"},
         "encoding": {"text": {"field": "label"}}}
      ]
    },
    {
      "width": 525, "height": 209,
      "encoding": {
        "x": {"field": "km", "type": "quantitative", "scale": {"domain": [0, 55], "nice": false},
              "axis": {"values": [0, 10, 20, 30, 40, 50], "title": "Distance along profile (km)", "labelPadding": 13, "titlePadding": 10, "titleFontSize": 19}},
        "y": {"field": "cm", "type": "quantitative", "scale": {"domain": [-5, 35], "nice": false},
              "axis": {"orient": "right", "values": [30, 20, 10, 0], "title": "Displacement (cm)", "labelAlign": "right", "labelPadding": 38, "titlePadding": 18}}
      },
      "layer": [
        {"data": {"name": "b2_line"}, "mark": {"type": "line", "color": "#000", "strokeWidth": 2.7}},
        {"data": {"name": "b2_pts"}, "mark": {"type": "circle", "color": "#ff0000", "size": 16, "opacity": 1}},
        {"data": {"values": [{"km": 55, "cm": 35, "label": "B2"}]},
         "mark": {"type": "text", "align": "right", "baseline": "top", "dx": -6, "dy": 4, "font": "Liberation Sans", "fontSize": 28, "color": "#000"},
         "encoding": {"text": {"field": "label"}}},
        {"data": {"values": [{"km": 44.4, "cm": 15.0, "label": "~30 cm"}]},
         "mark": {"type": "text", "align": "center", "baseline": "middle", "font": "Lato", "fontSize": 27, "color": "#ff0000"},
         "encoding": {"text": {"field": "label"}}}
      ]
    }
  ]
}
